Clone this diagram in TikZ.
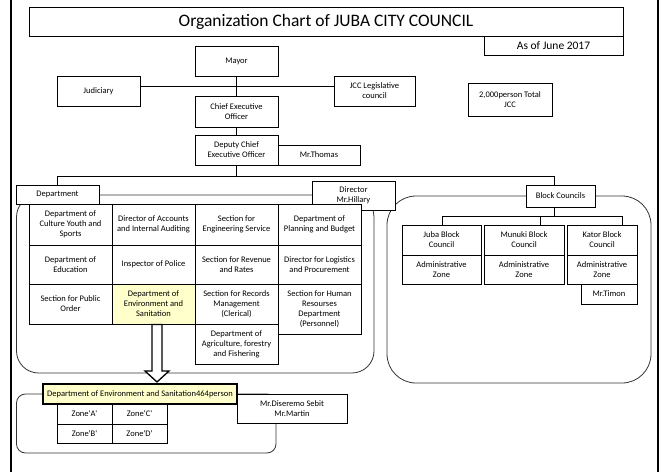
\documentclass[tikz,border=0pt]{standalone}
\usepackage{fontspec}
\setmainfont{Carlito}
\definecolor{hilite}{HTML}{FFFFCC}
\begin{document}
\begin{tikzpicture}[x=1pt,y=-1pt,
  box/.style={draw,fill=white,line width=0.75pt,align=center,inner sep=1pt,font=\fontsize{8.5}{10}\selectfont},
  cell/.style={box,minimum width=83pt,minimum height=40pt},
  pen/.style={line width=0.75pt},
  frame/.style={draw=black!80,line width=0.8pt}]
\useasboundingbox (0,0) rectangle (662,472);
\draw[line width=2.5pt] (11,0) -- (11,472) (658,0) -- (658,472);
\draw[frame,rounded corners=22pt] (16.5,195) rectangle (374,373);
\draw[frame,rounded corners=29pt] (387,196) rectangle (651,383);
\draw[frame,rounded corners=9pt] (16.5,394) rectangle (276,453);
\node[box,font=\fontsize{17.5}{20}\selectfont,minimum width=594pt,minimum height=29pt] (title) at (326,21.5) {Organization Chart of JUBA CITY COUNCIL};
\node[box,font=\fontsize{11.5}{13}\selectfont,minimum width=139pt,minimum height=19pt] (asof) at (553.5,45.5) {As of June 2017};
\node[box,minimum width=83pt,minimum height=30pt] (mayor) at (236.5,61) {Mayor};
\node[box,minimum width=83pt,minimum height=30pt] (judiciary) at (98.5,91) {Judiciary};
\node[box,minimum width=81pt,minimum height=30pt] (legis) at (374.5,91) {JCC Legislative\\council};
\node[box,minimum width=83pt,minimum height=31pt] (ceo) at (236.5,111.5) {Chief Executive\\Officer};
\node[box,minimum width=84pt,minimum height=33pt] (total) at (510,99.5) {2,000person Total\\JCC};
\node[box,minimum width=83pt,minimum height=30pt] (deputy) at (236.5,150) {Deputy Chief\\Executive Officer};
\node[box,minimum width=82pt,minimum height=20pt] (thomas) at (319,155) {Mr.Thomas};
\node[box,minimum width=83pt,minimum height=19pt] (dept) at (57.5,194.5) {Department};
\node[box,minimum width=83pt,minimum height=29pt] (director) at (353.5,195.5) {Director\\Mr.Hillary};
\node[box,minimum width=69pt,minimum height=22pt] (blockc) at (560.5,196) {Block Councils};
\node[cell,minimum height=41pt] (culture) at (70.5,224.5) {Department of\\Culture Youth and\\Sports};
\node[cell,minimum height=41pt] (accounts) at (153.5,224.5) {Director of Accounts\\and Internal Auditing};
\node[cell,minimum height=41pt] (engineer) at (236.5,224.5) {Section for\\Engineering Service};
\node[cell,minimum height=41pt] (planning) at (319.5,224.5) {Department of\\Planning and Budget};
\node[cell,minimum height=39pt] (education) at (70.5,264.5) {Department of\\Education};
\node[cell,minimum height=39pt] (police) at (153.5,264.5) {Inspector of Police};
\node[cell,minimum height=39pt] (revenue) at (236.5,264.5) {Section for Revenue\\and Rates};
\node[cell,minimum height=39pt] (logistics) at (319.5,264.5) {Director for Logistics\\and Procurement};
\node[cell] (order) at (70.5,304) {Section for Public\\Order};
\node[cell,fill=hilite] (envcell) at (153.5,304) {Department of\\Environment and\\Sanitation};
\node[cell] (records) at (236.5,304) {Section for Records\\Management\\(Clerical)};
\node[cell,minimum height=50pt] (human) at (319.5,309) {Section for Human\\Resourses\\Department\\(Personnel)};
\node[cell] (agri) at (236.5,344) {Department of\\Agriculture, forestry\\and Fishering};
\node[box,minimum width=79pt,minimum height=30pt] (jubac) at (441.5,240) {Juba Block\\Council};
\node[box,minimum width=79pt,minimum height=29pt] (jubaz) at (441.5,269.5) {Administrative\\Zone};
\node[box,minimum width=80pt,minimum height=30pt] (munukic) at (524,240) {Munuki Block\\Council};
\node[box,minimum width=80pt,minimum height=29pt] (munukiz) at (524,269.5) {Administrative\\Zone};
\node[box,minimum width=70pt,minimum height=30pt] (katorc) at (602,240) {Kator Block\\Council};
\node[box,minimum width=70pt,minimum height=29pt] (katorz) at (602,269.5) {Administrative\\Zone};
\node[box,minimum width=56pt,minimum height=20pt] (timon) at (609,294) {Mr.Timon};
\draw[line width=1.3pt,fill=white] (152,324.5) -- (162,324.5) -- (162,371) -- (169,371) -- (157,382) -- (145,371) -- (152,371) -- cycle;
\node[box,fill=hilite,line width=1.5pt,minimum width=194pt,minimum height=20pt] (envbox) at (140,394) {Department of Environment and Sanitation464person};
\node[box,minimum width=110pt,minimum height=29pt] (diseremo) at (292,408.5) {Mr.Diseremo Sebit\\Mr.Martin};
\node[box,minimum width=55pt,minimum height=20pt] (zonea) at (84.5,414) {Zone\textquotesingle A\textquotesingle};
\node[box,minimum width=55pt,minimum height=20pt] (zonec) at (139.5,414) {Zone\textquotesingle C\textquotesingle};
\node[box,minimum width=55pt,minimum height=19pt] (zoneb) at (84.5,433.5) {Zone\textquotesingle B\textquotesingle};
\node[box,minimum width=55pt,minimum height=19pt] (zoned) at (139.5,433.5) {Zone\textquotesingle D\textquotesingle};
\coordinate (barL) at (57.5,176);
\coordinate (barR) at (554,176);
\coordinate (bk) at (554,216);
\coordinate (jd) at (442,216);
\coordinate (md) at (540,216);
\coordinate (kd) at (622,216);
\draw[pen] (mayor) -- (ceo);
\draw[pen] (ceo) -- (deputy);
\draw[pen] ([yshift=5pt]judiciary.east) -- ([yshift=5pt]legis.west);
\draw[pen] (deputy.south) -- (deputy.south |- barL);
\draw[pen] (barL) -- (barR);
\draw[pen] (barL) -- (barL |- dept.north);
\draw[pen] (barR) -- (barR |- blockc.north);
\draw[pen] (barR |- blockc.south) -- (bk);
\draw[pen] (jd) -- (kd);
\draw[pen] (jd) -- (jd |- jubac.north);
\draw[pen] (md) -- (md |- munukic.north);
\draw[pen] (kd) -- (kd |- katorc.north);
\end{tikzpicture}
\end{document}
